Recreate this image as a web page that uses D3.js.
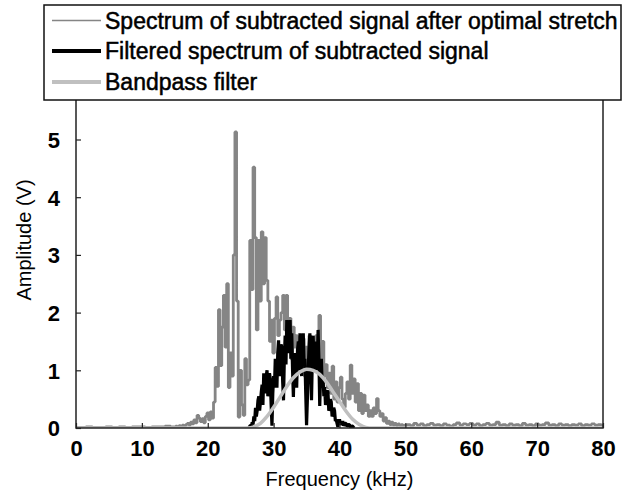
<!DOCTYPE html>
<html>
<head>
<meta charset="utf-8">
<script src="https://cdn.jsdelivr.net/npm/d3@7"></script>
<style>
  html, body { margin: 0; padding: 0; background: #fff; }
  svg { display: block; font-family: "Liberation Sans", Arial, sans-serif; }
</style>
</head>
<body>
<svg id="chart" width="622" height="496"></svg>
<script>
// ---------- data ----------
const xTicks = [0, 10, 20, 30, 40, 50, 60, 70, 80];
const yTicks = [0, 1, 2, 3, 4, 5];
const seriesNames = [
  "Spectrum of subtracted signal after optimal stretch",
  "Filtered spectrum of subtracted signal",
  "Bandpass filter"
];

// gray spectrum, low-frequency tail (kHz, V)
const grayLowFreq = [0, 1, 2, 3, 4, 5, 6, 7, 8, 9, 10, 11, 12, 13, 14, 14.75];
const grayLowAmp  = [0.01, 0.01, 0.02, 0.01, 0.01, 0.02, 0.01, 0.02, 0.01, 0.02, 0.02, 0.01, 0.02, 0.02, 0.03, 0.02];

// gray spectrum, main band 15 – 50 kHz, 0.25 kHz bins
const grayMainStart = 15, grayMainStep = 0.25;
const grayMainAmp = [
  0.02, 0.03, 0.02, 0.04, 0.03, 0.05, 0.03, 0.06, 0.08, 0.05, 0.10, 0.07,
  0.14, 0.09, 0.22, 0.17, 0.11, 0.16, 0.09, 0.20, 0.26, 0.14, 0.28, 0.17,
  0.45, 1.05, 0.72, 2.05, 1.08, 1.75, 2.30, 1.40, 2.50, 0.70, 1.30, 0.90,
  3.00, 5.13, 2.20, 0.19, 1.00, 0.40, 0.22, 1.20, 0.75, 0.83, 3.25, 2.40,
  4.52, 3.30, 1.70, 3.25, 2.20, 3.40, 2.50, 3.30, 2.56, 2.20, 1.50, 1.87,
  1.30, 1.90, 2.27, 1.60, 1.87, 2.00, 2.30, 1.70, 2.30, 1.60, 1.90, 1.20,
  1.75, 1.40, 1.60, 1.10, 1.50, 1.20, 1.55, 0.90, 1.40, 1.10, 1.60, 1.00,
  1.50, 1.20, 1.60, 1.30, 1.95, 1.20, 1.50, 0.90, 1.10, 0.70, 0.95, 0.60,
  1.07, 0.50, 0.80, 0.45, 0.70, 0.88, 0.50, 0.36, 0.60, 0.80, 0.50, 1.09,
  0.60, 0.85, 0.45, 0.77, 0.30, 0.60, 0.25, 0.57, 0.30, 0.40, 0.20, 0.30,
  0.20, 0.35, 0.25, 0.51, 0.30, 0.20, 0.25, 0.12, 0.18, 0.08, 0.12, 0.06,
  0.10, 0.05, 0.08, 0.04, 0.07, 0.04, 0.06, 0.03, 0.05
];

// gray spectrum, high-frequency tail 50.5 – 80 kHz, 0.5 kHz bins
const grayHighStart = 50.5, grayHighStep = 0.5;
const grayHighAmp = [
  0.06, 0.04, 0.08, 0.05, 0.07, 0.04, 0.06, 0.08, 0.05, 0.06,
  0.04, 0.07, 0.05, 0.03, 0.06, 0.09, 0.05, 0.07, 0.06, 0.08,
  0.05, 0.07, 0.04, 0.06, 0.08, 0.05, 0.06, 0.10, 0.05, 0.06,
  0.04, 0.07, 0.05, 0.06, 0.04, 0.08, 0.05, 0.06, 0.04, 0.07,
  0.05, 0.06, 0.09, 0.05, 0.06, 0.04, 0.07, 0.05, 0.06, 0.04,
  0.06, 0.05, 0.07, 0.04, 0.06, 0.05, 0.07, 0.05, 0.06, 0.05
];

// filtered spectrum, 26.25 – 42.25 kHz, 0.125 kHz bins
const blackStart = 26.25, blackStep = 0.125;
const blackAmp = [
  0.00, 0.03, 0.05, 0.02, 0.10, 0.06, 0.20, 0.12, 0.35, 0.20, 0.30, 0.48,
  0.55, 0.30, 0.45, 0.62, 0.75, 0.40, 0.95, 0.70, 0.60, 0.90, 1.00, 0.55,
  0.70, 0.95, 0.85, 0.40, 0.04, 0.60, 0.90, 0.70, 1.20, 0.85, 0.70, 1.30,
  1.52, 0.90, 1.10, 1.45, 1.40, 0.80, 0.48, 1.20, 1.60, 1.10, 1.87, 1.40,
  1.30, 1.70, 1.87, 1.20, 1.64, 1.00, 0.54, 1.10, 1.30, 0.80, 0.70, 1.35,
  1.50, 1.00, 1.64, 1.20, 0.90, 1.45, 1.64, 1.10, 1.20, 0.60, 0.05, 0.50,
  1.00, 1.40, 1.64, 1.00, 0.48, 1.20, 1.60, 1.10, 1.00, 1.40, 1.50, 1.00,
  1.70, 1.20, 0.38, 0.90, 1.20, 0.70, 0.88, 0.55, 0.71, 0.40, 0.50, 0.65,
  0.62, 0.30, 0.35, 0.50, 0.45, 0.20, 0.24, 0.35, 0.30, 0.12, 0.15, 0.08,
  0.02, 0.10, 0.15, 0.06, 0.10, 0.05, 0.12, 0.04, 0.06, 0.08, 0.08, 0.03,
  0.04, 0.06, 0.06, 0.02, 0.02, 0.04, 0.03, 0.01, 0.00
];

// bandpass filter
const filterFreq = [0, 26, 27, 28, 29, 30, 31, 32, 33, 34, 35, 36, 37, 38, 39, 40, 41, 42, 43, 44, 45, 80];
const filterAmp  = [0, 0, 0.02, 0.08, 0.20, 0.36, 0.54, 0.72, 0.87, 0.97, 1.02, 1.00, 0.93, 0.80, 0.63, 0.46, 0.29, 0.15, 0.06, 0.01, 0, 0];

// ---------- build point lists ----------
const grayPts = [];
grayLowFreq.forEach((f, i) => grayPts.push([f, grayLowAmp[i]]));
grayMainAmp.forEach((a, i) => grayPts.push([grayMainStart + i * grayMainStep, a]));
grayHighAmp.forEach((a, i) => grayPts.push([grayHighStart + i * grayHighStep, a]));
const blackPts = blackAmp.map((a, i) => [blackStart + i * blackStep, a]);
const filterPts = filterFreq.map((f, i) => [f, filterAmp[i]]);

// ---------- layout ----------
const svg = d3.select("#chart");
const plotLeft = 76, plotRight = 603, plotBottom = 428, plotTop = 60;
const x = d3.scaleLinear().domain([0, 80]).range([plotLeft, plotRight]);
const y = d3.scaleLinear().domain([0, 5]).range([plotBottom, 139.5]);

const colGray = "#858585", colBlack = "#000", colFilter = "#c0c0c0";

svg.append("defs").append("clipPath").attr("id", "clip")
  .append("rect").attr("x", plotLeft).attr("y", plotTop)
  .attr("width", plotRight - plotLeft).attr("height", plotBottom - plotTop);

const lineStep = d3.line().x(d => x(d[0])).y(d => y(d[1])).curve(d3.curveStep);
const lineLin = d3.line().x(d => x(d[0])).y(d => y(d[1]));
const lineSmooth = d3.line().x(d => x(d[0])).y(d => y(d[1])).curve(d3.curveMonotoneX);
const g = svg.append("g").attr("clip-path", "url(#clip)");
g.append("path").datum(grayPts).attr("d", lineStep)
  .attr("fill", "none").attr("stroke", colGray).attr("stroke-width", 2.8).attr("stroke-linejoin", "bevel");
g.append("path").datum(blackPts).attr("d", lineLin)
  .attr("fill", "none").attr("stroke", colBlack).attr("stroke-width", 3.2).attr("stroke-linejoin", "bevel");
g.append("path").datum(filterPts).attr("d", lineSmooth)
  .attr("fill", "none").attr("stroke", colFilter).attr("stroke-width", 3.5);

// frame
svg.append("rect").attr("x", plotLeft).attr("y", plotTop)
  .attr("width", plotRight - plotLeft).attr("height", plotBottom - plotTop)
  .attr("fill", "none").attr("stroke", "#222").attr("stroke-width", 1.5);

// axes (inward ticks)
const xAxis = d3.axisBottom(x).tickValues(xTicks).tickSize(-5).tickPadding(18).tickFormat(d3.format("d"));
const yAxis = d3.axisLeft(y).tickValues(yTicks).tickSize(-5).tickPadding(16).tickFormat(d3.format("d"));
const gx = svg.append("g").attr("transform", `translate(0,${plotBottom})`).call(xAxis);
const gy = svg.append("g").attr("transform", `translate(${plotLeft},0)`).call(yAxis);
[gx, gy].forEach(a => {
  a.select(".domain").remove();
  a.selectAll(".tick line").attr("stroke", "#222").attr("stroke-width", 1.2);
  a.selectAll(".tick text").attr("fill", "#000").style("font-size", "22px").style("font-weight", "bold")
    .style("font-family", "'Liberation Sans', Arial, sans-serif");
});
gx.selectAll(".tick text").attr("dy", "0.45em");
gy.selectAll(".tick text").attr("dy", "0.36em");

// axis titles
svg.append("text").attr("x", (plotLeft + plotRight) / 2).attr("y", 486)
  .attr("text-anchor", "middle").style("font-size", "20px").text("Frequency (kHz)");
svg.append("text").attr("transform", "translate(31,240) rotate(-90)")
  .attr("text-anchor", "middle").style("font-size", "20px").text("Amplitude (V)");

// legend
const lg = svg.append("g");
lg.append("rect").attr("x", 44).attr("y", 5).attr("width", 577).attr("height", 95)
  .attr("fill", "#fff").attr("stroke", "#111").attr("stroke-width", 1.5);
const legendRows = [
  { name: seriesNames[0], color: colGray, w: 1.6, cy: 20.5 },
  { name: seriesNames[1], color: colBlack, w: 4, cy: 51 },
  { name: seriesNames[2], color: colFilter, w: 4, cy: 82 }
];
legendRows.forEach(r => {
  lg.append("line").attr("x1", 52).attr("x2", 101).attr("y1", r.cy).attr("y2", r.cy)
    .attr("stroke", r.color).attr("stroke-width", r.w);
  lg.append("text").attr("x", 105).attr("y", r.cy).attr("dy", "0.36em")
    .style("font-size", "23px").attr("fill", "#000")
    .attr("stroke", "#000").attr("stroke-width", 0.5).text(r.name);
});
</script>
</body>
</html>
